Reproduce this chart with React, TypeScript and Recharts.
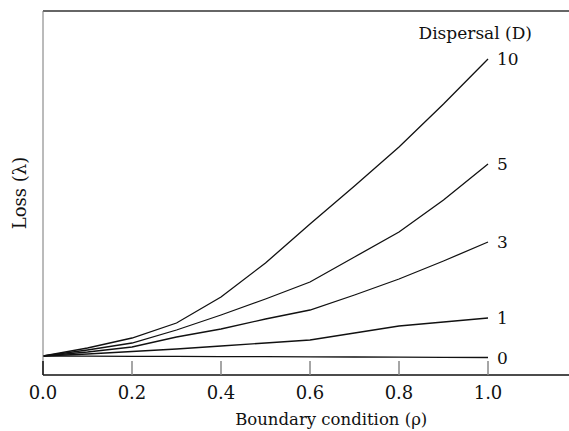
import React from "react";
import { LineChart, Line, XAxis, YAxis, ReferenceLine } from "recharts";

const rho = [0, 0.1, 0.2, 0.3, 0.4, 0.5, 0.6, 0.7, 0.8, 0.9, 1.0];
const loss10 = [0.19, 0.27, 0.37, 0.52, 0.78, 1.12, 1.51, 1.89, 2.28, 2.71, 3.16];
const loss5 = [0.19, 0.25, 0.32, 0.45, 0.6, 0.76, 0.93, 1.18, 1.43, 1.75, 2.11];
const loss3 = [0.19, 0.23, 0.28, 0.38, 0.46, 0.56, 0.65, 0.8, 0.96, 1.14, 1.33];
const loss1 = [0.19, 0.21, 0.235, 0.26, 0.29, 0.32, 0.35, 0.42, 0.49, 0.53, 0.57];
const loss0 = [0.19, 0.189, 0.187, 0.186, 0.184, 0.183, 0.181, 0.18, 0.178, 0.177, 0.175];
const xTicks = [0, 0.2, 0.4, 0.6, 0.8, 1.0];
const seriesKeys = ["d10", "d5", "d3", "d1", "d0"];
const seriesNames = ["10", "5", "3", "1", "0"];
const xMax = 1.182;
const yMax = 3.64;

const data = rho.map((r, i) => ({
  rho: r,
  d10: loss10[i],
  d5: loss5[i],
  d3: loss3[i],
  d1: loss1[i],
  d0: loss0[i],
}));

const FONT = "'DejaVu Serif', serif";
const INK = "#111";

const makeEndLabel = (name: string, withTitle: boolean) => (props: any) => {
  const { x, y, index } = props;
  if (index !== rho.length - 1) return null;
  return (
    <g>
      {withTitle && (
        <text x={x + 44} y={y - 20} textAnchor="end" fontFamily={FONT} fontSize={17} fill={INK}>
          Dispersal (D)
        </text>
      )}
      <text x={x + 9} y={y + 6} textAnchor="start" fontFamily={FONT} fontSize={17} fill={INK}>
        {name}
      </text>
    </g>
  );
};

const XTick = (props: any) => {
  const { x, y, payload } = props;
  return (
    <g>
      <line x1={x} x2={x} y1={y} y2={y - 14} stroke={payload.value === 0 ? "#111" : "#888"} strokeWidth={1.5} />
      <text x={x} y={y + 24} textAnchor="middle" fontFamily={FONT} fontSize={18} fill={INK}>
        {payload.value.toFixed(1)}
      </text>
    </g>
  );
};

const XLabel = (props: any) => {
  const { viewBox } = props;
  const cx = viewBox.x + viewBox.width * 0.548;
  return (
    <text x={cx} y={viewBox.y + 50} textAnchor="middle" fontFamily={FONT} fontSize={16.5} fill={INK}>
      Boundary condition (ρ)
    </text>
  );
};

const YLabel = (props: any) => {
  const { viewBox } = props;
  const cx = viewBox.x + viewBox.width - 17;
  const cy = viewBox.y + viewBox.height / 2;
  return (
    <text
      x={cx}
      y={cy}
      transform={`rotate(-90 ${cx} ${cy})`}
      textAnchor="middle"
      fontFamily={FONT}
      fontSize={18}
      fill={INK}
    >
      Loss (λ)
    </text>
  );
};

export default function App() {
  return (
    <div style={{ position: "absolute", left: 0, top: 0, width: 569, height: 431, background: "#fff" }}>
      <LineChart width={569} height={431} data={data} margin={{ top: 11, right: 0, left: 2, bottom: 0 }}>
        <XAxis
          dataKey="rho"
          type="number"
          domain={[0, xMax]}
          ticks={xTicks}
          allowDataOverflow
          height={56}
          tickSize={0}
          tickMargin={0}
          tickLine={false}
          tick={<XTick />}
          axisLine={{ stroke: INK, strokeWidth: 1.6 }}
          label={<XLabel />}
        />
        <YAxis
          type="number"
          domain={[0, yMax]}
          allowDataOverflow
          width={41}
          tick={false}
          tickLine={false}
          axisLine={{ stroke: "#777", strokeWidth: 1 }}
          label={<YLabel />}
        />
        <ReferenceLine y={yMax} stroke="#333" strokeWidth={1.5} ifOverflow="visible" />
        {seriesKeys.map((k, i) => (
          <Line
            key={k}
            dataKey={k}
            type="linear"
            stroke={INK}
            strokeWidth={1.3}
            dot={false}
            activeDot={false}
            isAnimationActive={false}
            label={makeEndLabel(seriesNames[i], i === 0)}
          />
        ))}
      </LineChart>
    </div>
  );
}
